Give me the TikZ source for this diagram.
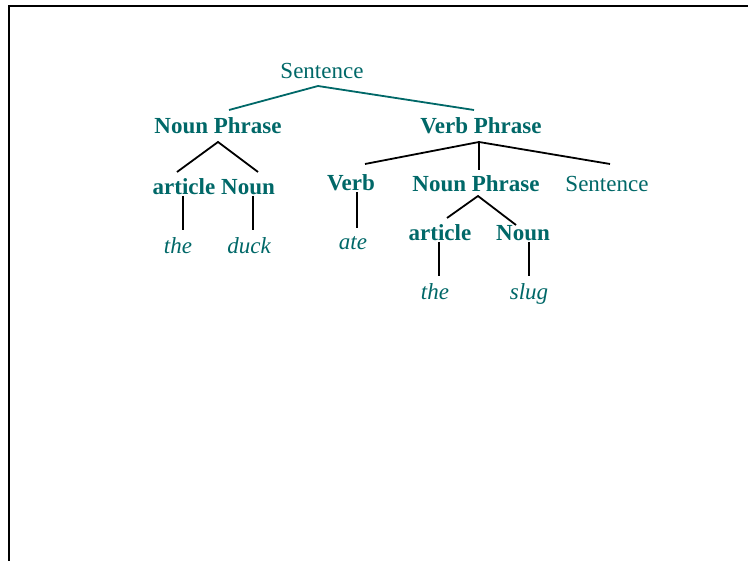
\documentclass[tikz,border=0pt]{standalone}
\usepackage{fontspec}
\setmainfont{Liberation Serif}
\definecolor{teal1}{RGB}{0,104,104}
\begin{document}
\begin{tikzpicture}[x=1pt,y=-1pt,
  lbl/.style={text=teal1,inner sep=0pt,anchor=base,font=\fontsize{23}{26}\selectfont},
  blbl/.style={lbl,font=\fontsize{23}{26}\selectfont\bfseries},
  ilbl/.style={lbl,font=\fontsize{23}{26}\selectfont\itshape},
  edge/.style={line width=1.8pt,black},
  tedge/.style={line width=1.8pt,teal1},
  frame/.style={line width=2.4pt,black}]
\useasboundingbox (0,0) rectangle (748,561);
\fill[white] (0,0) rectangle (748,561);
% frame
\coordinate (f1) at (9,561);
\coordinate (f2) at (9,6);
\coordinate (f3) at (748,6);
\draw[frame] (f1) -- (f2) -- (f3);
% nodes
\node[lbl]  (S)   at (322,78.5)  {Sentence};
\node[blbl] (NP)  at (218,134) {Noun Phrase};
\node[blbl] (VP)  at (481,134) {Verb Phrase};
\node[blbl] (ART) at (184,194.5) {article};
\node[blbl] (N)   at (248,194.5) {Noun};
\node[ilbl] (T1)  at (178,254) {the};
\node[ilbl] (D)   at (249,254) {duck};
\node[blbl] (V)   at (351,190.5) {Verb};
\node[ilbl] (ATE) at (353,250) {ate};
\node[blbl] (NP2) at (476,191.5) {Noun Phrase};
\node[lbl]  (S2)  at (607,191.5) {Sentence};
\node[blbl] (ART2) at (440,240.5) {article};
\node[blbl] (N2)  at (523,240.5) {Noun};
\node[ilbl] (T2)  at (435,299.5) {the};
\node[ilbl] (SL)  at (529,299.5) {slug};
% connector points
\coordinate (s0) at (318,86);
\coordinate (s1) at (229,110);
\coordinate (s2) at (474,110);
\coordinate (np0) at (218,142);
\coordinate (np1) at (177,172);
\coordinate (np2) at (258,172);
\coordinate (a1t) at (183,196);
\coordinate (a1b) at (183,230);
\coordinate (n1t) at (253,196);
\coordinate (n1b) at (253,230);
\coordinate (vp0) at (479,142);
\coordinate (vp1) at (365,164);
\coordinate (vp2) at (479,170);
\coordinate (vp3) at (610,164);
\coordinate (vt) at (357,192);
\coordinate (vb) at (357,228);
\coordinate (np20) at (478,196);
\coordinate (np21) at (447,218);
\coordinate (np22) at (516,225);
\coordinate (a2t) at (439,242);
\coordinate (a2b) at (439,276);
\coordinate (n2t) at (529,242);
\coordinate (n2b) at (529,276);
% connectors
\draw[tedge] (s1) -- (s0) -- (s2);
\draw[edge] (np1) -- (np0) -- (np2);
\draw[edge] (a1t) -- (a1b);
\draw[edge] (n1t) -- (n1b);
\draw[edge] (vp1) -- (vp0) -- (vp3);
\draw[edge] (vp0) -- (vp2);
\draw[edge] (vt) -- (vb);
\draw[edge] (np21) -- (np20) -- (np22);
\draw[edge] (a2t) -- (a2b);
\draw[edge] (n2t) -- (n2b);
\end{tikzpicture}
\end{document}
